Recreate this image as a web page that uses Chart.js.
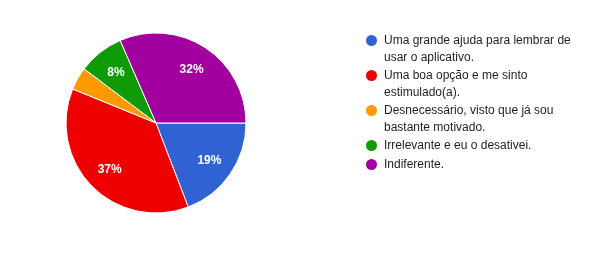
<!DOCTYPE html>
<html>
<head>
<meta charset="utf-8">
<script src="https://cdn.jsdelivr.net/npm/chart.js@4.4.1/dist/chart.umd.min.js"></script>
<style>
  html, body { margin: 0; padding: 0; background: #fff; }
  #wrap { position: relative; width: 603px; height: 262px; overflow: hidden; }
  #c { position: absolute; left: 0; top: 0; }
  #legend { position: absolute; left: 366px; top: 32px; width: 230px; margin: 0; padding: 0; list-style: none;
            font-family: Arial, "Liberation Sans", sans-serif; font-size: 12px; color: #1e1e1e; }
  #legend li { position: relative; padding-left: 18px; line-height: 16.5px; margin-bottom: 2px; }
  #legend li span.dot { position: absolute; left: 0; top: 3px; width: 11px; height: 11px; border-radius: 50%; }
</style>
</head>
<body>
<div id="wrap">
  <canvas id="c" width="603" height="262"></canvas>
  <ul id="legend"></ul>
</div>
<script>
const categories = [
  "Uma grande ajuda para lembrar de usar o aplicativo.",
  "Uma boa opção e me sinto estimulado(a).",
  "Desnecessário, visto que já sou bastante motivado.",
  "Irrelevante e eu o desativei.",
  "Indiferente."
];
const values = [14, 27, 3, 6, 23];
const colors = ["#3062d4", "#ee0000", "#ff9900", "#109a06", "#a1009f"];

const total = values.reduce((a, b) => a + b, 0);

const sliceLabels = {
  id: 'sliceLabels',
  afterDatasetsDraw(chart) {
    const ctx = chart.ctx;
    const meta = chart.getDatasetMeta(0);
    ctx.save();
    ctx.fillStyle = '#ffffff';
    ctx.font = 'bold 12px Arial, "Liberation Sans", sans-serif';
    ctx.textAlign = 'center';
    ctx.textBaseline = 'middle';
    meta.data.forEach((arc, i) => {
      const pct = values[i] / total * 100;
      if (pct < 5) return;
      const p = arc.getProps(['x', 'y', 'startAngle', 'endAngle', 'outerRadius'], true);
      const mid = (p.startAngle + p.endAngle) / 2;
      const r = p.outerRadius * 0.72;
      ctx.fillText(Math.round(pct) + '%', p.x + Math.cos(mid) * r, p.y + Math.sin(mid) * r + 1);
    });
    ctx.restore();
  }
};

new Chart(document.getElementById('c'), {
  type: 'pie',
  data: {
    labels: categories,
    datasets: [{
      data: values,
      backgroundColor: colors,
      borderColor: '#ffffff',
      borderWidth: 1
    }]
  },
  options: {
    responsive: false,
    animation: false,
    rotation: 90,
    radius: 90,
    layout: { padding: { left: 66, right: 357, top: 33, bottom: 49 } },
    plugins: { legend: { display: false }, tooltip: { enabled: false } }
  },
  plugins: [sliceLabels]
});

const ul = document.getElementById('legend');
categories.forEach((c, i) => {
  const li = document.createElement('li');
  const dot = document.createElement('span');
  dot.className = 'dot';
  dot.style.background = colors[i];
  li.appendChild(dot);
  li.appendChild(document.createTextNode(c));
  ul.appendChild(li);
});
</script>
</body>
</html>
